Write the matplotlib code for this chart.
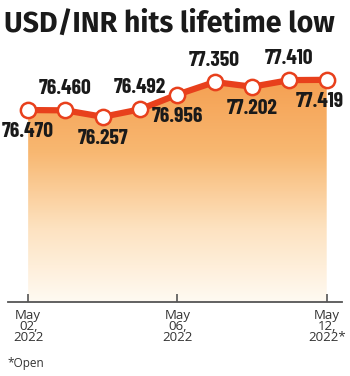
import matplotlib.pyplot as plt
import numpy as np
from matplotlib.colors import LinearSegmentedColormap

dates = ["May 02", "May 03", "May 04", "May 05", "May 06",
         "May 09", "May 10", "May 11", "May 12"]
rates = [76.470, 76.460, 76.257, 76.492, 76.956, 77.350, 77.202, 77.410, 77.419]
label_above = [False, True, False, True, False, True, False, True, False]
tick_idx = [0, 4, 8]
tick_labels = ["May\n02,\n2022", "May\n06,\n2022", "May\n12,\n2022*"]

LINE = "#e8401c"
x = np.arange(len(rates))

fig = plt.figure(figsize=(3.5, 3.76), dpi=100)
ax = fig.add_axes([8 / 350, 1 - 302 / 376, 334 / 350, 262 / 376])
ax.set_xlim(-0.54, 8.41)
ax.set_ylim(70.44, 78.67)

# gradient area under the line
ymin, ymax = ax.get_ylim()
poly = ax.fill_between(x, rates, ymin, color="none", lw=0)
cmap = LinearSegmentedColormap.from_list(
    "fade", ["#fffaf2", "#fde2c0", "#f8b872", "#f5a052"])
grad = np.linspace(0, 1, 256).reshape(-1, 1)
img = ax.imshow(grad, cmap=cmap, aspect="auto", origin="lower",
                extent=[x[0], x[-1], ymin, max(rates)], zorder=1)
img.set_clip_path(poly.get_paths()[0], transform=ax.transData)

ax.plot(x, rates, color=LINE, lw=4.5, zorder=3, solid_capstyle="round")
ax.plot(x, rates, "o", ms=11, mfc="white", mec=LINE, mew=1.8, zorder=4)

for i, (xi, v, up) in enumerate(zip(x, rates, label_above)):
    dx = -5 if i == len(rates) - 1 else 0
    ax.annotate(f"{v:.3f}", (xi, v), xytext=(dx, 15.5 if up else -15.5),
                textcoords="offset points", ha="center", va="center",
                fontsize=15.5, fontweight="bold", color="#1a1a1a",
                family="Barlow Condensed", zorder=5)

for s in ["top", "left", "right"]:
    ax.spines[s].set_visible(False)
ax.spines["bottom"].set_color("#555555")
ax.spines["bottom"].set_linewidth(1.3)
ax.set_yticks([])
ax.set_xticks(tick_idx)
ax.set_xticklabels(tick_labels, fontsize=9.5, color="#333333",
                   family="Open Sans", linespacing=0.8)
ax.tick_params(axis="x", direction="in", length=6, width=1.2,
               color="#555555", pad=5)

fig.text(0.012, 0.975, "USD/INR hits lifetime low", fontsize=20.5,
         fontweight="bold", color="#1a1a1a", family="Fira Sans", va="top")
fig.text(0.022, 0.016, "*Open", fontsize=8.5, color="#333333",
         family="Open Sans", va="bottom")

fig.savefig("out.png", dpi=100)
